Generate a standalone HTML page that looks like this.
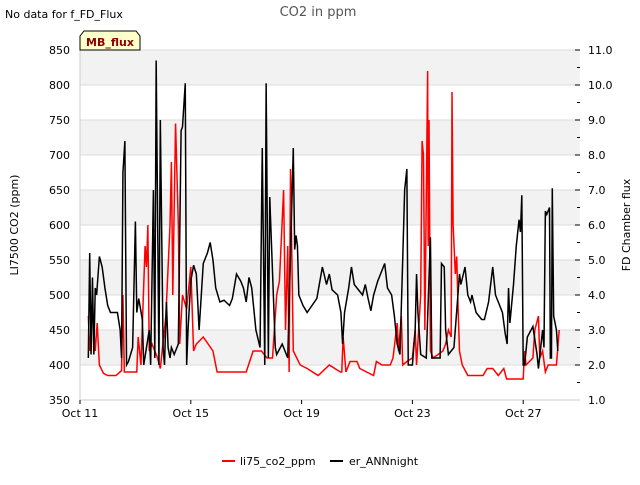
<!DOCTYPE html>
<html><head><meta charset="utf-8"><style>
body{margin:0;background:#fff;font-family:"Liberation Sans","DejaVu Sans",sans-serif;}
svg text{font-family:"DejaVu Sans","Liberation Sans",sans-serif;}
</style></head><body>
<svg id="chart" width="640" height="480" xmlns="http://www.w3.org/2000/svg">
<rect width="640" height="480" fill="#fff"/>
<g id="bands"></g><g id="grid"></g>
<g id="series"></g>
<g id="axes"></g>
<text x="318" y="16" text-anchor="middle" font-size="13" fill="#555">CO2 in ppm</text>
<text x="5" y="18" font-size="11" fill="#000">No data for f_FD_Flux</text>
<g><path d="M80,50 L80,36 L84,31 L136,31 L140,36 L140,50 Z" fill="#ffffcc" stroke="#000" stroke-width="1"/>
<text x="110" y="46" text-anchor="middle" font-size="11" font-weight="bold" fill="#8b0000">MB_flux</text></g>
<text transform="translate(18,225) rotate(-90)" text-anchor="middle" font-size="11" fill="#000">LI7500 CO2 (ppm)</text>
<text transform="translate(630,225) rotate(-90)" text-anchor="middle" font-size="11" fill="#000">FD Chamber flux</text>
<g><line x1="222" y1="461" x2="235" y2="461" stroke="#f00" stroke-width="2"/><text x="240" y="465" font-size="11">li75_co2_ppm</text></g>
<g><line x1="330" y1="461" x2="343" y2="461" stroke="#000" stroke-width="2"/><text x="349" y="465" font-size="11">er_ANNnight</text></g>
</svg>
<script>
const xTickLabels=["Oct 11","Oct 15","Oct 19","Oct 23","Oct 27"];
const xTickDays=[0,4,8,12,16];
const leftTicks=[350,400,450,500,550,600,650,700,750,800,850];
const rightTicks=[1,2,3,4,5,6,7,8,9,10,11];
const co2Days=[0.3,0.35,0.45,0.55,0.62,0.7,0.85,1.0,1.3,1.5,1.55,1.6,1.7,2.05,2.1,2.2,2.35,2.4,2.45,2.5,2.6,2.8,2.9,3.1,3.25,3.3,3.35,3.45,3.55,3.6,3.7,3.85,4.0,4.1,4.2,4.45,4.8,4.95,5.5,6.0,6.25,6.55,6.75,6.95,7.1,7.2,7.35,7.42,7.5,7.55,7.6,7.7,7.95,8.2,8.6,9.0,9.4,9.45,9.5,9.6,9.75,10.0,10.1,10.6,10.7,10.9,11.2,11.3,11.45,11.5,11.6,11.65,11.8,12.0,12.1,12.15,12.3,12.35,12.4,12.45,12.55,12.57,12.6,12.65,12.75,13.1,13.2,13.3,13.4,13.43,13.47,13.55,13.6,13.65,13.7,13.8,14.0,14.55,14.7,14.9,15.1,15.3,15.4,16.0,16.05,16.1,16.35,16.42,16.55,16.6,16.7,16.8,16.9,17.2,17.3];
const co2Vals=[470,420,480,420,460,400,388,385,385,392,500,390,390,390,440,400,570,540,600,420,430,410,395,470,600,690,500,745,600,430,500,480,540,420,430,440,420,390,390,390,420,420,410,410,500,520,650,450,570,390,680,420,400,395,385,400,390,390,440,390,405,405,395,385,405,400,400,410,460,420,470,400,405,410,450,400,500,720,700,450,820,570,750,420,410,420,430,450,440,790,600,530,555,480,420,400,385,385,395,395,385,395,380,380,420,400,410,450,470,410,420,390,400,400,450];
const annDays=[0.3,0.35,0.4,0.45,0.5,0.55,0.6,0.7,0.8,0.9,1.0,1.1,1.2,1.35,1.45,1.5,1.55,1.62,1.68,1.75,1.9,2.0,2.05,2.12,2.25,2.3,2.4,2.5,2.55,2.65,2.7,2.75,2.85,2.9,3.0,3.05,3.12,3.18,3.25,3.3,3.4,3.55,3.65,3.7,3.8,3.85,3.9,4.0,4.1,4.2,4.3,4.45,4.6,4.7,4.8,4.9,5.05,5.2,5.4,5.5,5.65,5.8,5.9,6.0,6.1,6.2,6.35,6.5,6.58,6.67,6.72,6.8,6.85,7.05,7.1,7.3,7.5,7.7,7.75,7.8,7.85,7.9,8.05,8.2,8.55,8.75,8.9,9.0,9.1,9.3,9.42,9.48,9.55,9.7,9.8,9.9,10.0,10.2,10.3,10.4,10.5,10.6,10.75,10.9,11.0,11.1,11.25,11.35,11.45,11.55,11.65,11.72,11.8,11.85,12.0,12.1,12.15,12.2,12.3,12.5,12.65,12.7,12.75,13.0,13.05,13.15,13.2,13.3,13.5,13.7,13.75,13.9,14.0,14.1,14.15,14.3,14.5,14.6,14.75,14.9,15.0,15.1,15.25,15.35,15.42,15.47,15.52,15.65,15.75,15.85,15.9,15.95,16.0,16.05,16.15,16.35,16.5,16.55,16.7,16.75,16.8,16.85,16.95,16.98,17.02,17.05,17.1,17.2,17.25];
const annVals=[2.2,5.2,2.3,4.5,2.3,4.2,4.0,5.1,4.8,4.2,3.7,3.5,3.5,3.5,3.0,2.2,7.5,8.4,2.0,2.1,2.5,6.1,3.5,3.9,3.3,2.0,2.5,3.0,2.0,7.0,2.2,10.7,2.0,9.0,2.5,2.0,3.8,2.5,2.2,2.5,2.3,2.6,8.7,8.8,10.05,2.0,3.0,4.4,4.85,4.6,3.0,4.9,5.2,5.5,5.0,4.2,3.8,3.85,3.7,3.9,4.6,4.4,4.2,3.8,4.5,4.2,3.0,2.5,8.2,2.0,10.05,2.2,6.8,2.5,2.3,2.6,2.2,8.2,5.3,5.7,5.4,4.0,3.7,3.5,3.9,4.8,4.3,4.6,4.15,4.0,3.5,2.6,3.5,4.2,4.8,4.3,4.2,4.0,4.3,3.9,3.55,4.0,4.4,4.7,4.9,4.2,4.0,3.4,2.6,2.3,5.0,7.0,7.6,2.0,2.0,3.0,4.6,3.5,2.3,2.2,5.65,2.2,2.2,2.2,4.9,4.8,3.0,2.3,2.5,4.6,4.3,4.8,4.0,3.8,4.0,3.5,3.3,3.3,3.8,4.8,4.0,3.8,3.5,2.9,2.6,4.2,3.2,4.3,5.4,6.15,5.8,6.85,2.0,2.0,2.8,3.1,2.3,1.9,3.0,2.5,6.4,6.3,6.5,2.2,2.2,7.05,3.4,3.0,2.4];
const NS="http://www.w3.org/2000/svg";
const X0=80,X1=580,Y0=400,Y1=50;
const pxPerDay=27.7;
function xs(d){return X0+d*pxPerDay;}
function yl(v){return Y0-(v-350)/500*(Y0-Y1);}
function yr(v){return Y0-(v-1)/10*(Y0-Y1);}
function mk(tag,attrs,parent){const e=document.createElementNS(NS,tag);for(const k in attrs)e.setAttribute(k,attrs[k]);parent.appendChild(e);return e;}
const bands=document.getElementById('bands'),grid=document.getElementById('grid'),axes=document.getElementById('axes'),series=document.getElementById('series');
for(let i=0;i<leftTicks.length-1;i++){
  if(i%2===1){const r=mk('rect',{x:X0,y:yl(leftTicks[i+1]),width:X1-X0,height:yl(leftTicks[i])-yl(leftTicks[i+1]),fill:'#f2f2f2'},bands);
  
  }
}
leftTicks.forEach(v=>{
  const l=mk('line',{x1:X0,x2:X1,y1:yl(v),y2:yl(v),stroke:'#dcdcdc','stroke-width':1},grid);
  
  
  const t=mk('text',{x:X0-10,y:yl(v)+4,'text-anchor':'end','font-size':11},axes);t.textContent=v;
  
  
});
rightTicks.forEach(v=>{
  const t=mk('text',{x:X1+8,y:yr(v)+4,'font-size':11},axes);t.textContent=v.toFixed(1);
  
  
  mk('line',{x1:X1-5,x2:X1,y1:yr(v),y2:yr(v),stroke:'#000'},axes);
  if(v<11)mk('line',{x1:X1-3,x2:X1,y1:yr(v+0.5),y2:yr(v+0.5),stroke:'#000'},axes);
});
mk('line',{x1:X0,x2:X0,y1:Y1,y2:Y0,stroke:'#ccc'},axes);
mk('line',{x1:X0,x2:X1,y1:Y0,y2:Y0,stroke:'#ccc'},axes);
xTickDays.forEach((d,i)=>{
  mk('line',{x1:xs(d),x2:xs(d),y1:Y0,y2:Y0+4,stroke:'#000'},axes);
  const t=mk('text',{x:xs(d),y:Y0+17,'text-anchor':'middle','font-size':11},axes);t.textContent=xTickLabels[i];
  
  
});
const p1=mk('polyline',{points:co2Days.map((d,i)=>xs(d)+','+yl(co2Vals[i])).join(' '),fill:'none',stroke:'#f00','stroke-width':1.5},series);


const p2=mk('polyline',{points:annDays.map((d,i)=>xs(d)+','+yr(annVals[i])).join(' '),fill:'none',stroke:'#000','stroke-width':1.5},series);


</script>
</body></html>
